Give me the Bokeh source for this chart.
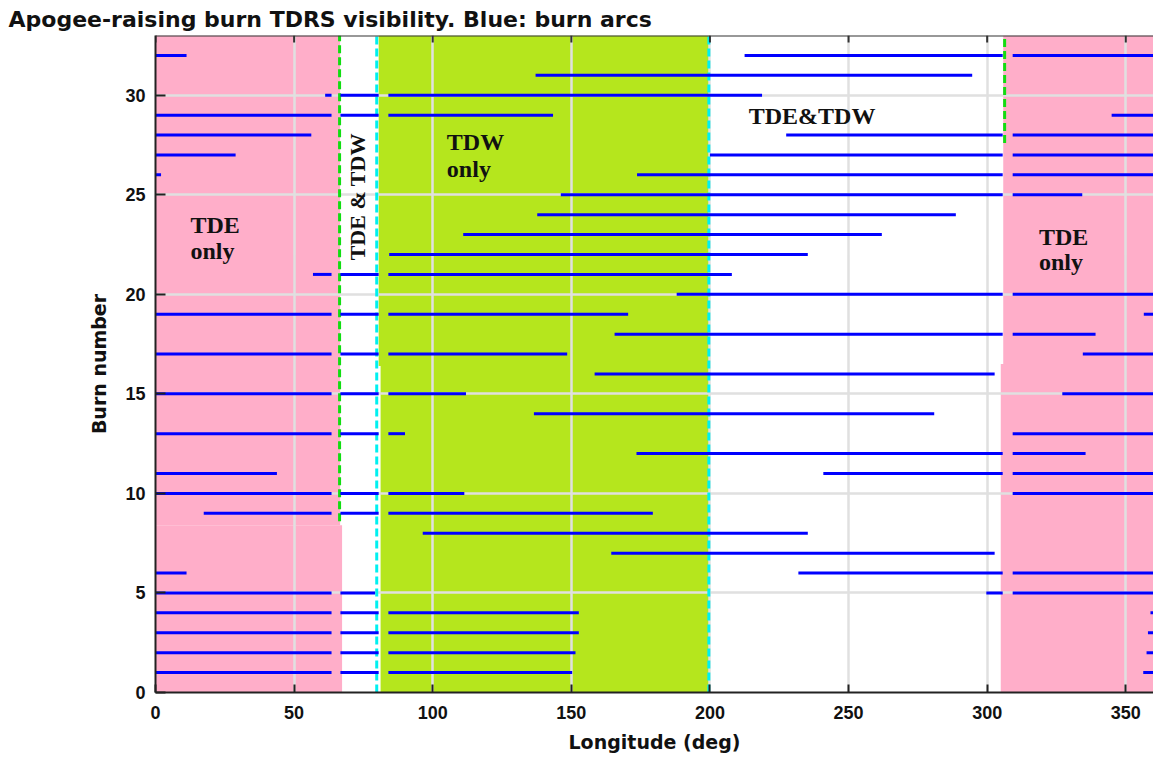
from bokeh.plotting import figure
from bokeh.models import Range1d, FixedTicker, Label, ColumnDataSource, Span
from bokeh.embed import file_html
from bokeh.resources import INLINE

# ---------------- data ----------------
burn_number = list(range(1, 33))
# burn arc start / end longitude (deg); end > 360 means the arc wraps past 360
arc_start = [356.3, 357.5, 358.0, 358.9, 299.7, 231.9, 164.4, 96.4, 17.4, 309.0,
             240.9, 173.5, 308.2, 136.5, 327.1, 158.4, 334.5, 165.6, 356.5, 188.0,
             56.8, 84.3, 111.0, 137.7, 146.2, 173.7, 200.0, 227.5, 344.9, 61.2,
             137.1, 212.5]
arc_end = [510.3, 511.5, 512.7, 512.7, 439.2, 371.2, 302.7, 235.3, 179.4, 471.4,
           403.8, 335.5, 450.0, 280.9, 472.0, 302.7, 508.5, 339.1, 530.5, 360.0,
           207.9, 235.3, 262.0, 288.7, 334.3, 362.0, 388.9, 416.2, 503.4, 218.8,
           294.6, 371.2]

x_ticks = [0, 50, 100, 150, 200, 250, 300, 350]
y_ticks = [0, 5, 10, 15, 20, 25, 30]

# visibility regions (longitude band x burn-number band)
region_x0 = [0.0, 0.0, 80.5, 81.2, 305.8, 304.9]
region_x1 = [66.6, 67.3, 200.0, 200.0, 360.0, 360.0]
region_y0 = [8.4, 0.0, 16.4, 0.0, 16.5, 0.0]
region_y1 = [33.0, 8.4, 33.0, 16.4, 33.0, 16.5]
region_kind = ["TDE", "TDE", "TDW", "TDW", "TDE", "TDE"]

# visibility boundary lines
bound_x = [66.4, 79.8, 199.6, 306.3]
bound_y0 = [8.6, 0.0, 0.0, 27.6]
bound_y1 = [33.0, 33.0, 33.0, 33.0]
bound_kind = ["east", "west", "west", "east"]

# arc breaks at the boundaries
gap_lo = [63.5, 80.5, 305.6]
gap_hi = [66.7, 84.0, 309.2]

# region labels
lab_text = ["TDE", "only", "TDW", "only", "TDE&TDW", "TDE", "only"]
lab_x = [12.6, 12.6, 105.1, 105.1, 214.0, 318.7, 318.7]
lab_y = [23.5, 22.2, 27.65, 26.3, 28.95, 22.9, 21.6]

PINK = "#ffaec9"
LIME = "#b5e61d"
kind_color = {"TDE": PINK, "TDW": LIME}
bound_color = {"east": "#11dd11", "west": "#00f0f0"}

X_MAX = 360.0
Y_MAX = 33.0

# ---------------- split arcs into drawable pieces ----------------
seg_x0, seg_x1, seg_y = [], [], []
for n, s, e in zip(burn_number, arc_start, arc_end):
    pieces = [(s, min(e, 360.0))]
    if e > 360.0:
        pieces.append((0.0, e - 360.0))
    for a, b in pieces:
        cur = [(a, b)]
        for glo, ghi in zip(gap_lo, gap_hi):
            nxt = []
            for u, v in cur:
                if v <= glo or u >= ghi:
                    nxt.append((u, v))
                else:
                    if u < glo:
                        nxt.append((u, glo))
                    if v > ghi:
                        nxt.append((ghi, v))
            cur = nxt
        for u, v in cur:
            if v - u > 0.05:
                seg_x0.append(u)
                seg_x1.append(v)
                seg_y.append(n)

# ---------------- figure ----------------
p = figure(width=1153, height=757, output_backend="svg", toolbar_location=None,
           x_range=Range1d(0, X_MAX), y_range=Range1d(0, Y_MAX),
           min_border_left=155, min_border_top=35, min_border_bottom=65,
           min_border_right=0)
p.outline_line_color = None
p.background_fill_color = "white"
p.border_fill_color = "white"

p.title.text = "Apogee-raising burn TDRS visibility.  Blue: burn arcs"
p.title.text_font = "DejaVu Sans"
p.title.text_font_style = "bold"
p.title.text_font_size = "22px"
p.title.text_color = "#111111"
p.title.align = "left"
p.title.offset = -147
p.title.standoff = 7

rsrc = ColumnDataSource(dict(left=region_x0, right=region_x1, bottom=region_y0, top=region_y1,
                             color=[kind_color[k] for k in region_kind]))
p.quad(left="left", right="right", bottom="bottom", top="top", color="color",
       line_color=None, source=rsrc, level="image")

bsrc = ColumnDataSource(dict(x=bound_x, y0=bound_y0, y1=bound_y1,
                             color=[bound_color[k] for k in bound_kind]))
p.segment(x0="x", y0="y0", x1="x", y1="y1", line_color="color", line_width=3,
          line_dash="8 4", source=bsrc)

ssrc = ColumnDataSource(dict(x0=seg_x0, x1=seg_x1, y=seg_y))
p.segment(x0="x0", y0="y", x1="x1", y1="y", line_color="#0000ff", line_width=3,
          source=ssrc)

for t, x, y in zip(lab_text, lab_x, lab_y):
    p.add_layout(Label(x=x, y=y, text=t, text_font="Liberation Serif",
                       text_font_style="bold", text_font_size="24px",
                       text_color="#111111", text_baseline="middle", text_align="left"))
p.add_layout(Label(x=72.7, y=24.9, text="TDE & TDW", text_font="Liberation Serif",
                   text_font_style="bold", text_font_size="22px", angle=1.5708,
                   text_color="#111111", text_baseline="middle", text_align="center"))

# grid
for g in (p.xgrid, p.ygrid):
    g.grid_line_color = "#e0e0e0"
    g.grid_line_width = 2.5
p.xgrid.ticker = FixedTicker(ticks=x_ticks)
p.ygrid.ticker = FixedTicker(ticks=y_ticks)

# axes
xa = p.xaxis[0]
ya = p.yaxis[0]
xa.ticker = FixedTicker(ticks=x_ticks)
ya.ticker = FixedTicker(ticks=y_ticks)
for ax in (xa, ya):
    ax.axis_line_color = "#222222"
    ax.axis_line_width = 2
    ax.major_tick_line_color = "#222222"
    ax.major_tick_line_width = 2
    ax.major_tick_out = 0
    ax.minor_tick_line_color = None
    ax.major_label_text_font = "Liberation Sans"
    ax.major_label_text_font_style = "bold"
    ax.major_label_text_font_size = "18px"
    ax.major_label_text_color = "#111111"
    ax.axis_label_text_font = "DejaVu Sans"
    ax.axis_label_text_font_style = "bold"
    ax.axis_label_text_font_size = "19px"
    ax.axis_label_text_color = "#111111"
xa.major_tick_in = 8
ya.major_tick_in = 10
xa.axis_label = "Longitude (deg)"
ya.axis_label = "Burn number"
xa.major_label_standoff = 13
xa.axis_label_standoff = 9
ya.major_label_standoff = 10
ya.axis_label_standoff = 12

# top border of the box, with inward ticks
p.add_layout(Span(location=Y_MAX, dimension="width", line_color="#333333", line_width=2))
p.segment(x0=x_ticks, x1=x_ticks, y0=[Y_MAX] * len(x_ticks), y1=[Y_MAX - 0.35] * len(x_ticks),
          line_color="#333333", line_width=2)

open("out.html", "w").write(file_html(p, INLINE))
